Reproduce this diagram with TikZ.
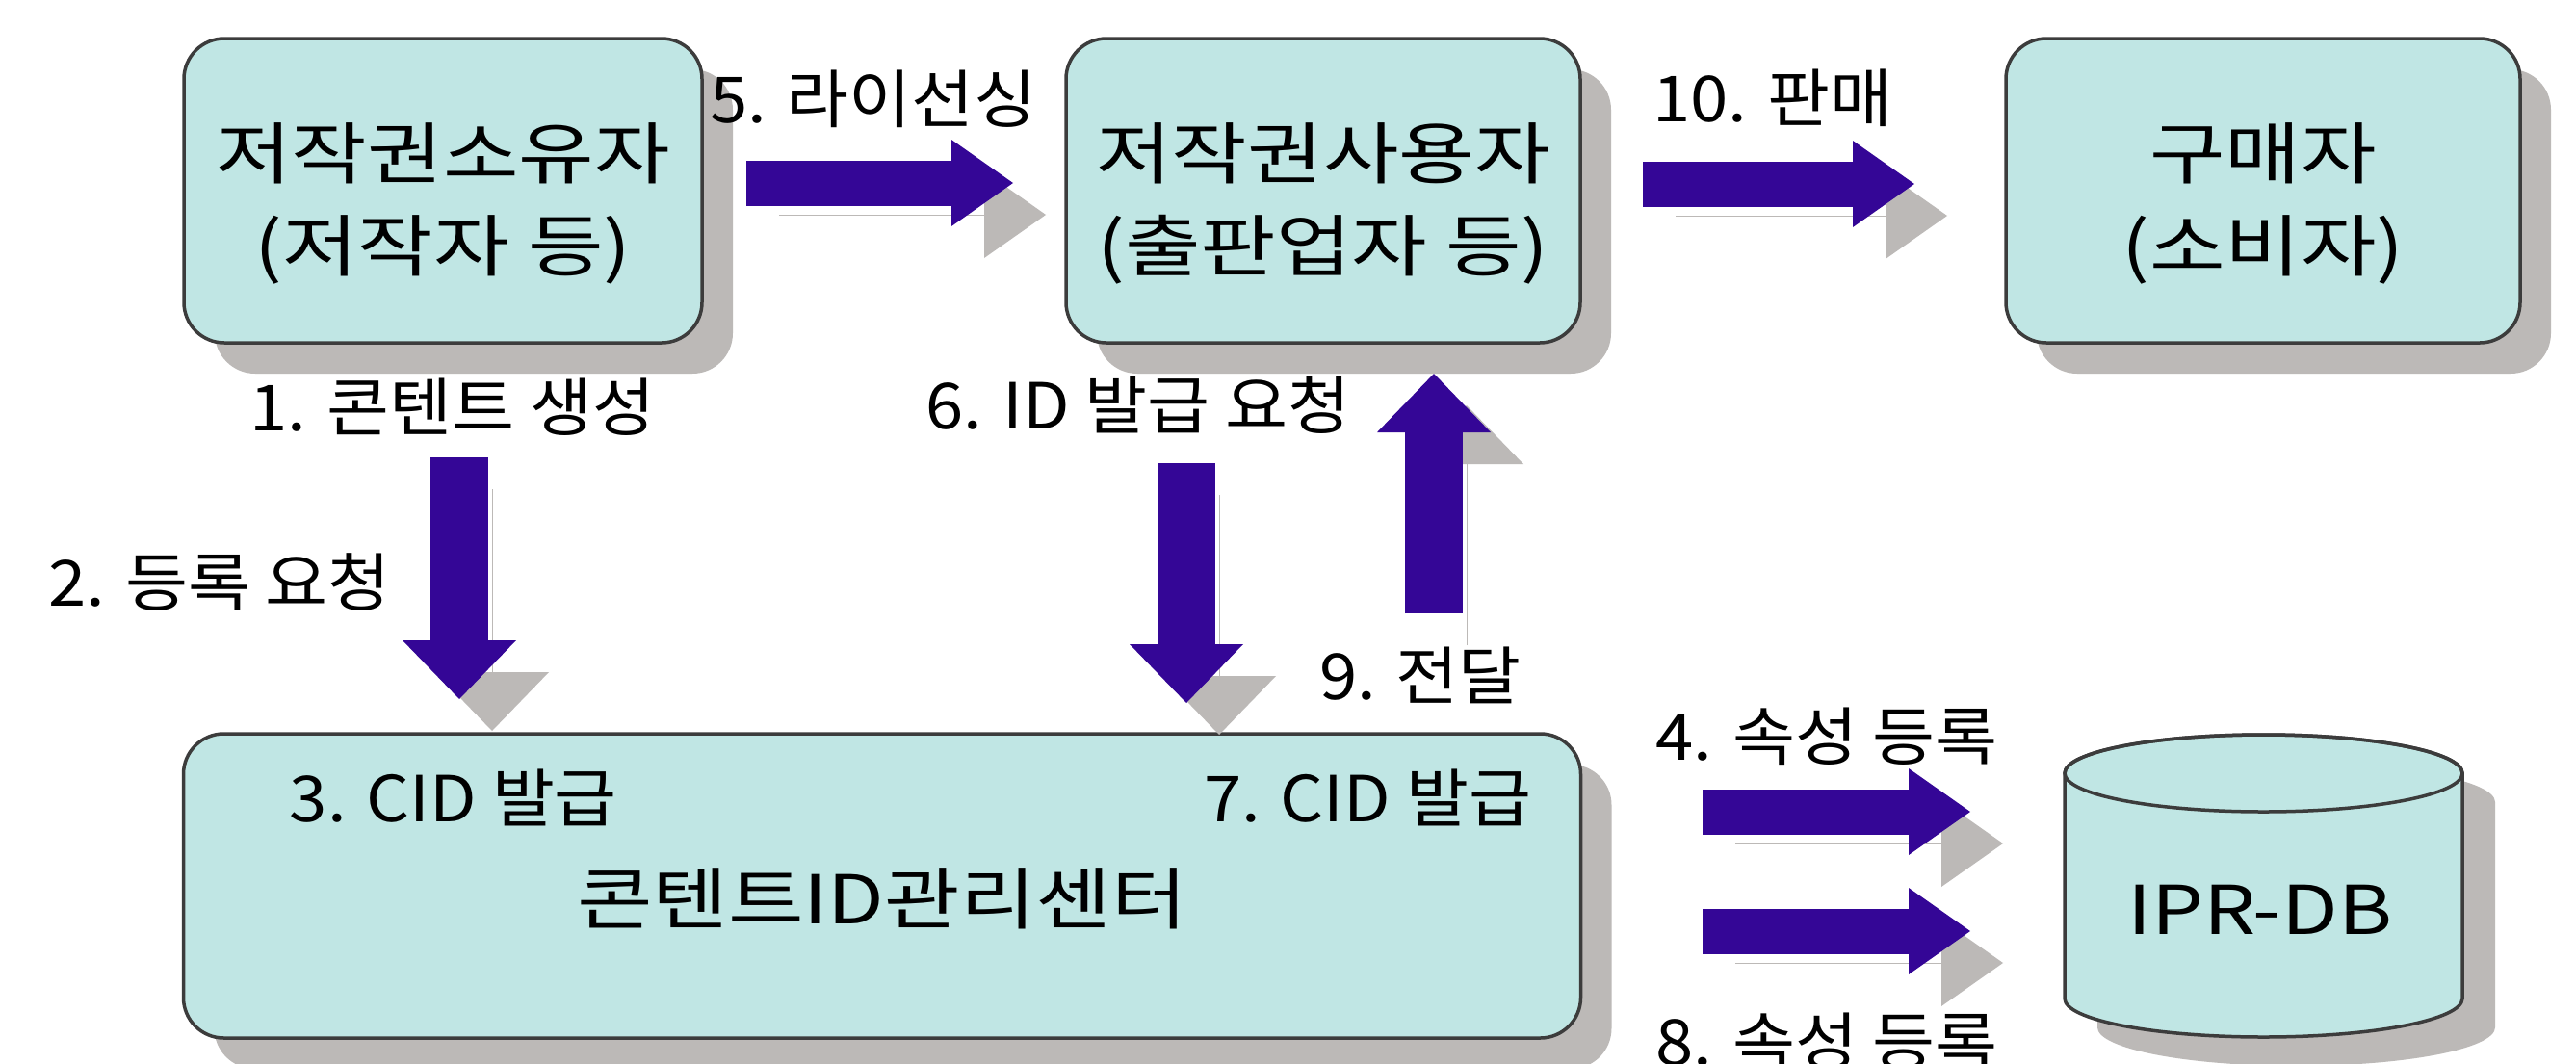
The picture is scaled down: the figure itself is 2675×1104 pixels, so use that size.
\documentclass[tikz,border=0pt]{standalone}
\usepackage{fontspec}
\setmainfont{Noto Sans CJK KR}[FakeStretch=1.07]
\newfontfamily\boxfont{Noto Sans CJK KR}[FakeStretch=1.22]
\usetikzlibrary{arrows.meta,shadows}
\definecolor{boxfill}{RGB}{192,230,228}
\definecolor{boxline}{RGB}{60,60,60}
\definecolor{shadowcol}{RGB}{188,185,183}
\definecolor{arrowcol}{RGB}{52,6,150}
\newcommand\tstrut{\rule{0pt}{84pt}}
\begin{document}
\begin{tikzpicture}[x=1pt,y=-1pt,
  box/.style={rounded corners=42pt, fill=boxfill, draw=boxline, line width=3.5pt,
    align=center, inner sep=0pt, font=\boxfont\fontsize{70}{96}\selectfont,
    drop shadow={shadow xshift=32pt, shadow yshift=-32pt, fill=shadowcol, opacity=1}},
  lbl/.style={font=\fontsize{66}{80}\selectfont, inner sep=0pt},
  shadowed/.style={preaction={draw=shadowcol, transform canvas={xshift=34pt, yshift=-33pt}}},
  harrow/.style={shadowed, line width=47pt, draw=arrowcol, line cap=butt,
    -{Triangle[length=64pt 0 0, width=90pt 0, line width=0pt 0 0]}},
  varrow/.style={shadowed, line width=60pt, draw=arrowcol, line cap=butt,
    -{Triangle[length=61pt 0 0, width=118pt 0, line width=0pt 0 0]}}
]
\fill[white] (0,0) rectangle (2675,1104);
\useasboundingbox (0,0) rectangle (2675,1104);

% boxes
\node[box, minimum width=538pt, minimum height=316pt] (owner) at (460,198) {\tstrut 저작권소유자\\(저작자 등)};
\node[box, minimum width=534pt, minimum height=316pt] (user) at (1374,198) {\tstrut 저작권사용자\\(출판업자 등)};
\node[box, minimum width=534pt, minimum height=316pt] (buyer) at (2350,198) {\tstrut 구매자\\(소비자)};
\node[box, minimum width=1451pt, minimum height=316pt] (center) at (916,920) {\tstrut 콘텐트ID관리센터};
\node[lbl] (t3) at (471,828) {3. CID 발급};
\node[lbl] (t7) at (1420,828) {7. CID 발급};

% database cylinder
\begin{scope}[shift={(34,30)}]
  \fill[shadowcol] (2144,803) -- (2144,1037) arc[start angle=180, end angle=360, x radius=206.5pt, y radius=40pt]
    -- (2557,803) arc[start angle=0, end angle=180, x radius=206.5pt, y radius=40pt] -- cycle;
\end{scope}
\filldraw[fill=boxfill, draw=boxline, line width=3.5pt] (2144,803) -- (2144,1037)
  arc[start angle=180, end angle=360, x radius=206.5pt, y radius=40pt]
  -- (2557,803) arc[start angle=0, end angle=180, x radius=206.5pt, y radius=40pt] -- cycle;
\draw[draw=boxline, line width=3.5pt] (2350.5,803) ellipse[x radius=206.5pt, y radius=40pt];
\node[font=\boxfont\fontsize{70}{80}\selectfont, inner sep=0pt] (db) at (2347,945) {IPR-DB};

% arrow end points
\coordinate (a5s) at (775,190);   \coordinate (a5e) at (1052,190);
\coordinate (a10s) at (1706,191); \coordinate (a10e) at (1988,191);
\coordinate (a2s) at (477,475);   \coordinate (a2e) at (477,726);
\coordinate (a6s) at (1232,481);  \coordinate (a6e) at (1232,730);
\coordinate (a9s) at (1489,637);  \coordinate (a9e) at (1489,388);
\coordinate (a4s) at (1768,843);  \coordinate (a4e) at (2046,843);
\coordinate (a8s) at (1768,967);  \coordinate (a8e) at (2046,967);

\draw[harrow] (a5s) -- (a5e);
\draw[harrow] (a10s) -- (a10e);
\draw[varrow] (a2s) -- (a2e);
\draw[varrow] (a6s) -- (a6e);
\draw[varrow] (a9s) -- (a9e);
\draw[harrow] (a4s) -- (a4e);
\draw[harrow] (a8s) -- (a8e);

% labels
\node[lbl] (l5) at (907,103) {5. 라이선싱};
\node[lbl] (l10) at (1841,102) {10. 판매};
\node[lbl] (l1) at (470,423) {1. 콘텐트 생성};
\node[lbl] (l6) at (1182,421) {6. ID 발급 요청};
\node[lbl] (l2) at (228,605) {2. 등록 요청};
\node[lbl] (l9) at (1475,701) {9. 전달};
\node[lbl] (l4) at (1897,765) {4. 속성 등록};
\node[lbl] (l8) at (1897,1082) {8. 속성 등록};
\end{tikzpicture}
\end{document}
